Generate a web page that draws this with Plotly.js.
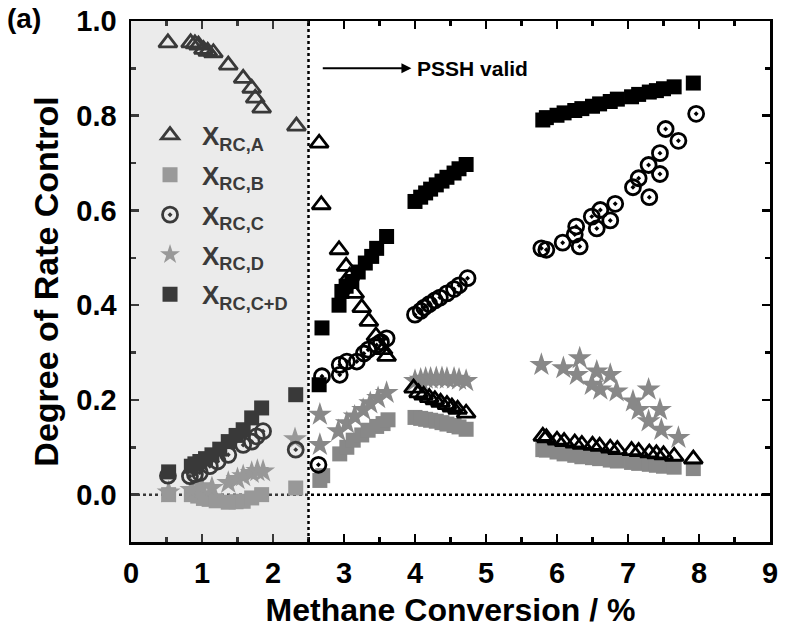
<!DOCTYPE html>
<html><head><meta charset="utf-8">
<script src="https://cdn.plot.ly/plotly-3.0.1.min.js"></script>
<style>html,body{margin:0;padding:0;background:#fff}#chart{width:785px;height:640px}</style>
</head><body><div id="chart"></div>
<script>
// Series A (triangles)
const xA = [0.52,0.84,0.90,0.95,1.02,1.08,1.16,1.37,1.58,1.70,1.75,1.84,2.33, 2.65,2.68,2.93,3.03,3.08,3.15,3.25,3.35,3.45,3.55,3.60, 3.98,4.05,4.12,4.20,4.28,4.36,4.45,4.52,4.60,4.72, 5.80,5.85,6.00,6.10,6.25,6.35,6.50,6.60,6.75,6.85,7.05,7.15,7.30,7.40,7.50,7.65,7.92];
const yA = [0.954,0.954,0.952,0.949,0.940,0.936,0.933,0.907,0.879,0.858,0.837,0.816,0.778, 0.742,0.612,0.517,0.482,0.461,0.425,0.395,0.366,0.335,0.306,0.292, 0.225,0.215,0.210,0.205,0.200,0.195,0.190,0.185,0.180,0.172, 0.123,0.120,0.115,0.112,0.109,0.106,0.104,0.102,0.098,0.095,0.093,0.091,0.088,0.086,0.084,0.081,0.075];
// Series B (grey squares)
const xB = [0.53,0.85,0.94,1.02,1.10,1.20,1.37,1.48,1.58,1.70,1.84,2.32, 2.66,2.70,2.94,3.04,3.13,3.25,3.34,3.46,3.55,3.62, 4.00,4.08,4.15,4.22,4.30,4.38,4.45,4.55,4.62,4.72, 5.80,5.85,6.00,6.10,6.25,6.35,6.50,6.60,6.75,6.85,7.05,7.15,7.30,7.40,7.50,7.65,7.92];
const yB = [0.0,0.0,-0.003,-0.008,-0.010,-0.013,-0.016,-0.015,-0.014,-0.007,0.0,0.014, 0.030,0.040,0.086,0.100,0.115,0.126,0.136,0.144,0.150,0.158, 0.163,0.161,0.159,0.157,0.155,0.152,0.149,0.146,0.143,0.138, 0.095,0.094,0.090,0.086,0.083,0.080,0.078,0.076,0.073,0.071,0.068,0.066,0.064,0.062,0.060,0.058,0.055];
// Series C (dotted circles)
const xC = [0.52,0.83,0.90,0.97,1.11,1.22,1.37,1.58,1.70,1.77,1.86,2.32, 2.64,2.69,2.94,2.94,3.04,3.18,3.28,3.34,3.46,3.52,3.60, 4.00,4.08,4.13,4.20,4.28,4.35,4.45,4.55,4.62,4.74, 5.78,5.85,6.08,6.25,6.27,6.32,6.49,6.56,6.61,6.75,6.82,7.07,7.15,7.30,7.29,7.45,7.45,7.53,7.71,7.96];
const yC = [0.040,0.039,0.043,0.046,0.060,0.070,0.084,0.105,0.112,0.123,0.134,0.095, 0.063,0.250,0.253,0.274,0.281,0.281,0.298,0.306,0.316,0.322,0.330, 0.380,0.388,0.395,0.402,0.410,0.416,0.425,0.434,0.442,0.457, 0.520,0.517,0.532,0.549,0.566,0.524,0.587,0.562,0.601,0.579,0.614,0.649,0.668,0.628,0.696,0.677,0.721,0.772,0.747,0.804];
// Series D (grey stars)
const xD = [0.53,0.85,0.99,1.14,1.37,1.50,1.58,1.70,1.78,1.86,2.31, 2.66,2.66,2.92,3.04,3.15,3.27,3.37,3.48,3.60, 4.00,4.08,4.15,4.22,4.30,4.38,4.45,4.55,4.62,4.72, 5.78,6.09,6.32,6.28,6.56,6.75,6.49,6.61,6.84,7.07,7.29,7.15,7.45,7.29,7.47,7.71];
const yD = [0.005,0.010,0.018,0.014,0.025,0.033,0.039,0.046,0.050,0.049,0.117, 0.169,0.105,0.134,0.151,0.165,0.179,0.193,0.204,0.215, 0.240,0.243,0.245,0.245,0.246,0.246,0.245,0.245,0.243,0.240, 0.274,0.267,0.288,0.253,0.260,0.253,0.232,0.222,0.218,0.197,0.222,0.179,0.179,0.155,0.137,0.120];
// Series C+D (black squares)
const xCD = [0.53,0.85,0.90,0.97,1.05,1.14,1.25,1.37,1.48,1.58,1.70,1.84,2.32, 2.65,2.69,2.93,2.97,3.03,3.11,3.20,3.30,3.39,3.46,3.60, 4.00,4.08,4.15,4.22,4.30,4.38,4.45,4.55,4.62,4.72, 5.80,5.85,6.00,6.10,6.25,6.35,6.50,6.60,6.75,6.85,7.05,7.15,7.30,7.40,7.50,7.65,7.92];
const yCD = [0.048,0.060,0.065,0.070,0.076,0.084,0.096,0.112,0.125,0.137,0.162,0.183,0.211, 0.232,0.352,0.400,0.429,0.440,0.450,0.470,0.489,0.503,0.520,0.545, 0.619,0.628,0.637,0.645,0.654,0.662,0.670,0.679,0.688,0.697, 0.791,0.796,0.801,0.806,0.811,0.815,0.820,0.825,0.830,0.835,0.840,0.845,0.850,0.853,0.857,0.861,0.869];

const legendNames = ['X<sub>RC,A</sub>','X<sub>RC,B</sub>','X<sub>RC,C</sub>','X<sub>RC,D</sub>','X<sub>RC,C+D</sub>'];
const xTitle = 'Methane Conversion / %';
const yTitle = 'Degree of Rate Control';
const pssh = 'PSSH valid';
const panel = '(a)';
const shadeEnd = 2.5;

const FONT = 'Liberation Sans, Arial, sans-serif';
const GREY = '#888888';

function sc(x, y, symbol, color, size, lw, lcolor) {
  return {x:x, y:y, type:'scatter', mode:'markers', showlegend:false, hoverinfo:'skip',
    marker:{symbol:symbol, size:size, color:color, line:{width:lw, color:lcolor}}};
}
const traces = [
  sc(xCD, yCD, 'square', '#000', 15, 0, '#000'),
  sc(xB, yB, 'square', GREY, 15, 0, GREY),
  sc(xD, yD, 'star', GREY, 18, 0, GREY),
  sc(xA, yA, 'triangle-up-open', '#000', 16, 2.8, '#000'),
  sc(xC, yC, 'circle-open-dot', '#000', 15, 2.8, '#000'),
];
// legend entries (colours as seen under the grey shading)
function lg(name, symbol, color, lw, grp) {
  return {x:[null], y:[null], type:'scatter', mode:'markers', name:name, legendgroup:grp,
    marker:{symbol:symbol, size:15, color:color, line:{width:lw, color:color}}};
}
traces.push(lg(legendNames[0], 'triangle-up-open', '#3a3a3a', 2.8, 'a'));
traces.push(lg(legendNames[1], 'square', '#999999', 0, 'b'));
traces.push(lg(legendNames[2], 'circle-open-dot', '#3a3a3a', 2.8, 'c'));
traces.push(lg(legendNames[3], 'star', '#999999', 0, 'd'));
traces.push(lg(legendNames[4], 'square', '#3a3a3a', 0, 'e'));

const layout = {
  width:785, height:640,
  margin:{l:131, r:15, t:21, b:98},
  paper_bgcolor:'#fff', plot_bgcolor:'#fff',
  font:{family:FONT, color:'#000', weight:'bold'},
  showlegend:true,
  legend:{x:0.011, y:0.826, xanchor:'left', yanchor:'top', bgcolor:'rgba(0,0,0,0)',
    font:{family:FONT, size:26, color:'#3a3a3a', weight:'bold'}, tracegroupgap:3, traceorder:'grouped',
    itemwidth:54},
  xaxis:{range:[0,9], dtick:1, tick0:0, ticks:'inside', ticklen:8, tickwidth:2.5, tickcolor:'#000',
    showline:true, linewidth:2.5, linecolor:'#000', mirror:'ticks', showgrid:false, zeroline:false,
    minor:{dtick:0.5, ticks:'inside', ticklen:5, tickwidth:2.5, tickcolor:'#000', showgrid:false},
    tickfont:{family:FONT, size:29, weight:'bold'}, ticklabelstandoff:4,
    title:{text:xTitle, font:{family:FONT, size:32, weight:'bold'}, standoff:11}},
  yaxis:{range:[-0.1,1.0], dtick:0.2, tick0:0, tickformat:'.1f', ticks:'inside', ticklen:8, tickwidth:2.5, tickcolor:'#000',
    showline:true, linewidth:2.5, linecolor:'#000', mirror:'ticks', showgrid:false, zeroline:false,
    minor:{dtick:0.1, ticks:'inside', ticklen:5, tickwidth:2.5, tickcolor:'#000', showgrid:false},
    tickfont:{family:FONT, size:29, weight:'bold'}, ticklabelstandoff:6,
    title:{text:yTitle, font:{family:FONT, size:34, weight:'bold'}, standoff:8}},
  shapes:[
    {type:'line', layer:'below', xref:'x', yref:'y', x0:0, x1:9, y0:0, y1:0, line:{color:'#000', width:2.5, dash:'dot'}},
    {type:'rect', layer:'above', xref:'x', yref:'paper', x0:0, x1:shadeEnd, y0:0, y1:1, fillcolor:'rgb(190,190,190)', opacity:0.3, line:{width:0}},
    {type:'line', layer:'above', xref:'x', yref:'paper', x0:shadeEnd, x1:shadeEnd, y0:0, y1:1, line:{color:'#000', width:2.5, dash:'dot'}},
  ],
  annotations:[
    {xref:'paper', yref:'paper', x:-0.197, y:1.005, xanchor:'left', yanchor:'middle', text:panel, showarrow:false,
      font:{family:FONT, size:28, weight:'bold', color:'#000'}},
    {xref:'x', yref:'y', x:3.95, y:0.9, ax:2.68, ay:0.9, axref:'x', ayref:'y', text:'', showarrow:true,
      arrowhead:2, arrowsize:1, arrowwidth:2, arrowcolor:'#000', standoff:0, startstandoff:0},
    {xref:'x', yref:'y', x:4.0, y:0.9, xanchor:'left', yanchor:'middle', text:pssh, showarrow:false,
      font:{family:FONT, size:21, weight:'bold', color:'#000'}},
  ]
};
Plotly.newPlot('chart', traces, layout, {staticPlot:true, displayModeBar:false});
</script></body></html>
